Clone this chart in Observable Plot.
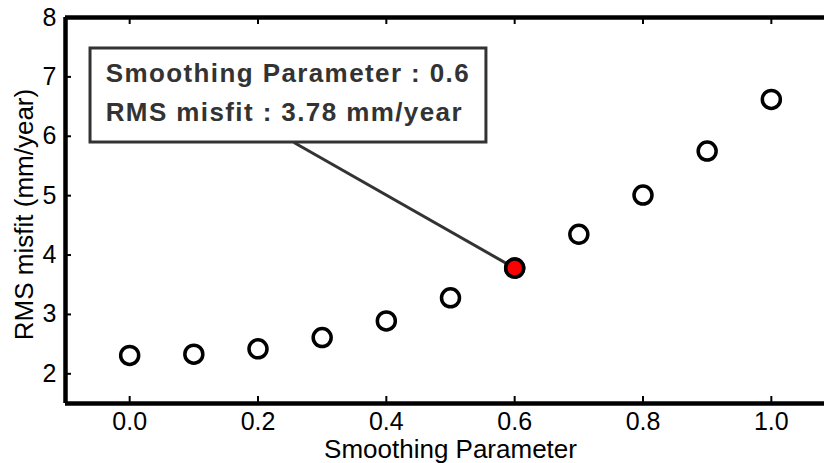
<!DOCTYPE html>
<html><head><meta charset="utf-8">
<script src="https://cdn.jsdelivr.net/npm/d3@7"></script>
<script src="https://cdn.jsdelivr.net/npm/@observablehq/plot@0.6"></script>
<style>
html,body{margin:0;padding:0;background:#fff;}
#chart svg{display:block;}
</style></head><body><div id="chart"></div>
<script>
// ---- data ----
const smoothing = [0.0, 0.1, 0.2, 0.3, 0.4, 0.5, 0.6, 0.7, 0.8, 0.9, 1.0];
const rmsMisfit = [2.31, 2.33, 2.42, 2.61, 2.89, 3.28, 3.78, 4.35, 5.01, 5.75, 6.62];
const xTicks = [0.0, 0.2, 0.4, 0.6, 0.8, 1.0];
const yTicks = [2, 3, 4, 5, 6, 7, 8];
const selectedIndex = 6;
const xLabel = "Smoothing Parameter";
const yLabel = "RMS misfit (mm/year)";
const calloutLines = [
  "Smoothing Parameter : " + smoothing[selectedIndex].toFixed(1),
  "RMS misfit : " + rmsMisfit[selectedIndex].toFixed(2) + " mm/year"
];

const points = smoothing.map((s, i) => ({s, r: rmsMisfit[i]}));
const selected = [points[selectedIndex]];

const xDomain = [-0.1, 1.1];
const yDomain = [1.5, 8];
// callout layout (in chart units)
const box = {x1: -0.061, x2: 0.556, y1: 5.895, y2: 7.478};
const textX = -0.0374;
const lineY = [6.922, 6.265];
const leaderStart = {x: 0.256, y: 5.895};

const frameW = 824 + 11 - 65, frameH = 463 - 60 - 17;

const plot = Plot.plot({
  width: 824, height: 463,
  marginLeft: 65, marginRight: -11, marginTop: 17, marginBottom: 60,
  style: {fontFamily: "'Liberation Sans', Arial, sans-serif", background: "#fff", color: "#000", overflow: "visible"},
  x: {domain: xDomain},
  y: {domain: yDomain},
  marks: [
    Plot.axisX({ticks: xTicks, tickSize: 0, tickPadding: 9, tickFormat: d3.format(".1f"), fontSize: 25, label: null}),
    Plot.axisY({ticks: yTicks, tickSize: 0, tickPadding: 9, tickFormat: d3.format("d"), fontSize: 25, label: null}),
    // inward ticks
    Plot.ruleX(xTicks, {x: d => d, insetTop: frameH - 7, stroke: "#000", strokeWidth: 2}),
    Plot.ruleX(xTicks, {x: d => d, insetBottom: frameH - 7, stroke: "#000", strokeWidth: 2}),
    Plot.ruleY(yTicks, {y: d => d, insetRight: frameW - 6, stroke: "#000", strokeWidth: 2}),
    // frame (left, top, bottom)
    Plot.ruleX([xDomain[0]], {stroke: "#000", strokeWidth: 4.5}),
    Plot.ruleY([yDomain[0], yDomain[1]], {stroke: "#000", strokeWidth: 4.5}),
    // axis titles
    Plot.text([xLabel], {frameAnchor: "bottom", lineAnchor: "bottom", dy: 54, fontSize: 26, text: d => d, fill: "#000"}),
    Plot.text([yLabel], {frameAnchor: "left", textAnchor: "middle", rotate: -90, lineAnchor: "bottom", dx: -33, dy: 4, fontSize: 26, text: d => d, fill: "#000"}),
    // leader line
    Plot.link(selected, {x1: () => leaderStart.x, y1: () => leaderStart.y, x2: "s", y2: "r", stroke: "#333", strokeWidth: 3}),
    // callout box
    Plot.rect([box], {x1: "x1", x2: "x2", y1: "y1", y2: "y2", fill: "#fff", stroke: "#333", strokeWidth: 3}),
    Plot.text(calloutLines, {x: () => textX, y: (d, i) => lineY[i], text: d => d, textAnchor: "start", lineAnchor: "bottom", fontSize: 26, fontWeight: "bold", fill: "#333"}),
    // points
    Plot.dot(points, {x: "s", y: "r", r: 9, fill: "#fff", stroke: "#000", strokeWidth: 3.5}),
    Plot.dot(selected, {x: "s", y: "r", r: 9, fill: "#f00", stroke: "#000", strokeWidth: 3.5})
  ]
});
plot.querySelectorAll("text").forEach(t => {
  if (calloutLines.includes(t.textContent)) t.style.letterSpacing = "1.4px";
});
document.getElementById("chart").appendChild(plot);
</script>
</body></html>
